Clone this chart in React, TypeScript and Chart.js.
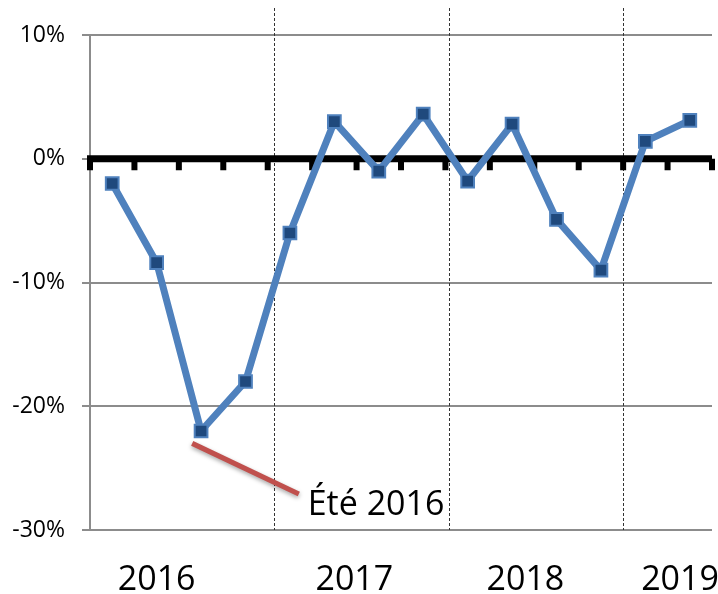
import React, { useEffect, useRef } from 'react';
import { Chart, registerables } from 'chart.js';

Chart.register(...registerables);

const quarters = ['T1 2016', 'T2 2016', 'T3 2016', 'T4 2016', 'T1 2017', 'T2 2017', 'T3 2017', 'T4 2017', 'T1 2018', 'T2 2018', 'T3 2018', 'T4 2018', 'T1 2019', 'T2 2019'];
const values = [-2.0, -8.4, -22.0, -18.0, -6.0, 3.0, -1.0, 3.6, -1.8, 2.8, -4.9, -9.0, 1.4, 3.1];
const yearLabels = ['2016', '2017', '2018', '2019'];
const yearLabelAt = [1.0, 5.45, 9.3, 12.78];
const yearBreaks = [3.65, 7.57, 11.5];
const yMin = -30;
const yMax = 10;
const yStep = 10;
const annotationText = 'Été 2016';
const annotationFrom = { x: 1.8, y: -23.0 };
const annotationTo = { x: 4.2, y: -27.1 };
const annotationTextAt = { x: 4.4, y: -28.8 };

const FONT = '"Open Sans", "Noto Sans", sans-serif';

const decor = {
  id: 'decor',
  beforeDatasetsDraw(chart: any) {
    const { ctx, chartArea: a, scales } = chart;
    const x = scales.x;
    const y = scales.y;
    ctx.save();
    // dotted year separators
    ctx.strokeStyle = '#333';
    ctx.lineWidth = 1;
    ctx.setLineDash([3, 2]);
    yearBreaks.forEach((b) => {
      const px = Math.round(x.getPixelForValue(b)) + 0.5;
      ctx.beginPath();
      ctx.moveTo(px, a.top - 27);
      ctx.lineTo(px, a.bottom);
      ctx.stroke();
    });
    ctx.setLineDash([]);
    // thick zero line with tick marks
    const y0 = y.getPixelForValue(0);
    ctx.fillStyle = '#000';
    ctx.fillRect(a.left - 3, y0 - 3.5, a.right - a.left + 3, 7);
    for (let i = 0; i <= quarters.length; i++) {
      const px = x.getPixelForValue(i - 0.5);
      ctx.fillRect(px - 3, y0, 6, 11.5);
    }
    ctx.restore();
  },
  afterDatasetsDraw(chart: any) {
    const { ctx, scales } = chart;
    const x = scales.x;
    const y = scales.y;
    ctx.save();
    ctx.shadowColor = 'rgba(0,0,0,0.35)';
    ctx.shadowBlur = 4;
    ctx.shadowOffsetY = 2;
    ctx.strokeStyle = '#C0504D';
    ctx.lineWidth = 5;
    ctx.beginPath();
    ctx.moveTo(x.getPixelForValue(annotationFrom.x), y.getPixelForValue(annotationFrom.y));
    ctx.lineTo(x.getPixelForValue(annotationTo.x), y.getPixelForValue(annotationTo.y));
    ctx.stroke();
    ctx.restore();
    ctx.save();
    ctx.fillStyle = '#000';
    ctx.font = `34px ${FONT}`;
    ctx.textAlign = 'left';
    ctx.textBaseline = 'alphabetic';
    ctx.fillText(annotationText, x.getPixelForValue(annotationTextAt.x), y.getPixelForValue(annotationTextAt.y));
    ctx.restore();
  },
  afterDraw(chart: any) {
    const { ctx, chartArea: a, scales } = chart;
    const x = scales.x;
    ctx.save();
    ctx.fillStyle = '#000';
    ctx.font = `34px ${FONT}`;
    ctx.textAlign = 'center';
    ctx.textBaseline = 'alphabetic';
    yearLabels.forEach((lab, i) => {
      ctx.fillText(lab, x.getPixelForValue(yearLabelAt[i]), a.bottom + 60);
    });
    ctx.restore();
  },
};

export default function App() {
  const ref = useRef<HTMLCanvasElement | null>(null);

  useEffect(() => {
    if (!ref.current) return;
    const chart = new Chart(ref.current, {
      type: 'line',
      data: {
        datasets: [
          {
            label: 'Variation',
            data: values.map((v, i) => ({ x: i, y: v, q: quarters[i] })) as any,
            borderColor: '#4F81BD',
            borderWidth: 7,
            borderJoinStyle: 'round',
            borderCapStyle: 'round',
            tension: 0,
            pointStyle: 'rect',
            pointRadius: 9,
            pointBackgroundColor: '#1F497D',
            pointBorderColor: '#4F81BD',
            pointBorderWidth: 2,
          },
        ],
      },
      options: {
        responsive: false,
        animation: false,
        layout: { autoPadding: false, padding: { top: 35, right: 6, bottom: 64, left: 0 } },
        plugins: { legend: { display: false }, tooltip: { enabled: false } },
        scales: {
          x: {
            type: 'linear',
            min: -0.5,
            max: quarters.length - 0.5,
            display: false,
          },
          y: {
            min: yMin,
            max: yMax,
            afterFit: (s: any) => {
              s.width = 90;
            },
            ticks: {
              stepSize: yStep,
              padding: 17,
              color: '#000',
              font: { family: FONT, size: 23 },
              callback: (v: any) => `${v}%`,
            },
            grid: {
              color: '#8c8c8c',
              lineWidth: 2,
              tickLength: 8,
              drawTicks: true,
            },
            border: { display: true, color: '#8c8c8c', width: 2 },
          },
        },
      },
      plugins: [decor],
    });
    return () => chart.destroy();
  }, []);

  return (
    <div style={{ position: 'absolute', left: 0, top: 0, width: 718, height: 594, background: '#fff' }}>
      <canvas ref={ref} width={718} height={594} style={{ display: 'block' }} />
    </div>
  );
}
